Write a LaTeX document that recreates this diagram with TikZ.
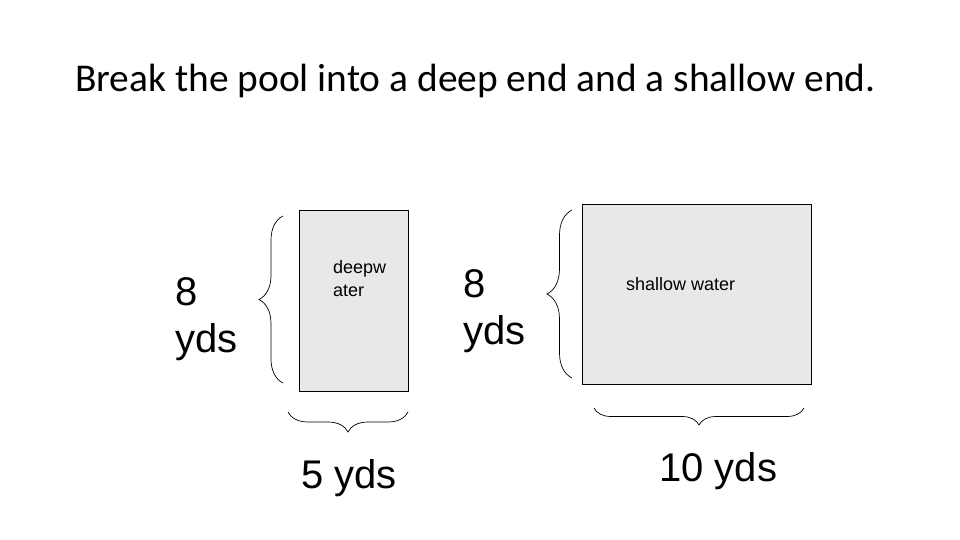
\documentclass[tikz,border=0pt]{standalone}
\usepackage{fontspec}
\setmainfont{Liberation Sans}
\newfontfamily\titlefont{Carlito}
\usetikzlibrary{decorations.pathreplacing}

\tikzset{
  pool/.style={draw=black, fill=black!9, line width=0.9pt, anchor=north west, inner sep=0pt},
  yardbrace/.style={decorate, decoration={brace, amplitude=#1}, line width=0.7pt},
  biglabel/.style={font=\fontsize{40}{47}\selectfont, align=left, anchor=north west, inner sep=0pt},
  smalllabel/.style={font=\fontsize{18}{23}\selectfont, align=left, anchor=north west, inner sep=0pt},
}

\begin{document}
\begin{tikzpicture}[x=1pt, y=-1pt]
  \useasboundingbox (0,0) rectangle (960,540);

  % title
  \node[font=\titlefont\fontsize{39.4}{44}\selectfont, anchor=base west, inner sep=0pt] (title) at (75,92)
    {Break the pool into a deep end and a shallow end.};

  % deep end
  \node[pool, minimum width=109pt, minimum height=181pt] (deep) at (299,210) {};
  \node[smalllabel] (deeptext) at (333,260) {deepw\\ater};
  \draw[yardbrace=24] (283,383) -- (283,216);
  \draw[yardbrace=20] (408,412) -- (288,412);
  \node[biglabel] (deepside) at (175,277) {8\\yds};
  \node[biglabel] (deepbottom) at (301,459) {5 yds};

  % shallow end
  \node[pool, minimum width=229pt, minimum height=180pt] (shallow) at (582,204) {};
  \node[smalllabel] (shallowtext) at (626,277) {shallow water};
  \draw[yardbrace=25] (572,378) -- (572,210);
  \draw[yardbrace=17] (804,408) -- (594,408);
  \node[biglabel] (shallowside) at (463,269) {8\\yds};
  \node[biglabel] (shallowbottom) at (659,452) {10 yds};
\end{tikzpicture}
\end{document}
